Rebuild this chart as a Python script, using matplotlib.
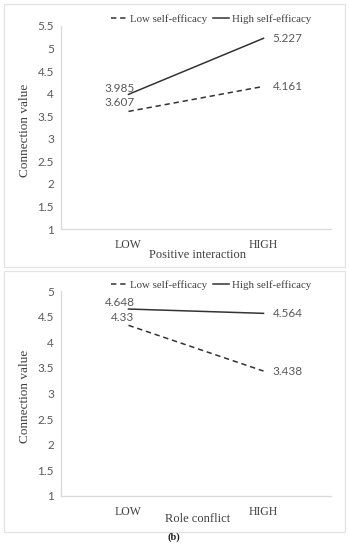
import matplotlib
matplotlib.use("Agg")
import matplotlib.pyplot as plt
from matplotlib.patches import Rectangle

categories = ["LOW", "HIGH"]
top_low = [3.607, 4.161]
top_high = [3.985, 5.227]
bot_low = [4.33, 3.438]
bot_high = [4.648, 4.564]
top_yticks = [1, 1.5, 2, 2.5, 3, 3.5, 4, 4.5, 5, 5.5]
bot_yticks = [1, 1.5, 2, 2.5, 3, 3.5, 4, 4.5, 5]
top_xlabel = "Positive interaction"
bot_xlabel = "Role conflict"

W, H = 349, 550
fig = plt.figure(figsize=(W / 100, H / 100), dpi=100)

SERIF = "Liberation Serif"
SANS = "Lato"
GRAY = "#595959"
AX = "#d9d9d9"
NUM = 8.5


def px_box(l, t, r, b):
    return [l / W, 1 - b / H, (r - l) / W, (b - t) / H]


# panel borders
for (l, t, r, b) in [(4, 4, 345, 267), (4, 271, 345, 532)]:
    fig.patches.append(Rectangle((l / W, 1 - b / H), (r - l) / W, (b - t) / H,
                                 transform=fig.transFigure, fill=False,
                                 edgecolor="#e3e3e3", linewidth=0.9))


def panel(rect, low, high, yticks, xlabel, ylim, leg_y, xl_y, dys):
    ax = fig.add_axes(px_box(*rect))
    x = range(len(categories))
    ax.plot(x, low, linestyle=(0, (3.5, 2.5)), color="#333333", linewidth=1.1,
            label="Low self-efficacy")
    ax.plot(x, high, linestyle="-", color="#333333", linewidth=1.1,
            label="High self-efficacy")
    ax.set_xlim(-0.5, 1.5)
    ax.set_ylim(*ylim)
    ax.set_yticks(yticks)
    ax.set_yticklabels([f"{v:g}" for v in yticks], fontfamily=SANS,
                       fontsize=NUM, color=GRAY)
    ax.set_xticks(list(x))
    ax.set_xticklabels(categories, fontfamily=SERIF, fontsize=8.5, color="#404040")
    ax.tick_params(length=0, pad=5)
    ax.tick_params(axis="x", pad=7)
    for s in ["top", "right"]:
        ax.spines[s].set_visible(False)
    for s in ["left", "bottom"]:
        ax.spines[s].set_color(AX)
        ax.spines[s].set_linewidth(0.9)
    fig.text(25 / W, 1 - ((rect[1] + rect[3]) / 2 + 3) / H, "Connection value",
             rotation=90, fontfamily=SERIF, fontsize=9.5, color="#404040",
             ha="center", va="center")
    fig.text((rect[0] + rect[2]) / 2 / W + 0.005, 1 - xl_y / H, xlabel,
             fontfamily=SERIF, fontsize=9, color="#404040",
             ha="center", va="center")
    # data labels
    ax.annotate(f"{low[0]:g}", (0, low[0]), xytext=(6, dys[0]), textcoords="offset pixels",
                ha="right", va="center", fontfamily=SANS, fontsize=NUM, color=GRAY)
    ax.annotate(f"{high[0]:g}", (0, high[0]), xytext=(6, dys[1]), textcoords="offset pixels",
                ha="right", va="center", fontfamily=SANS, fontsize=NUM, color=GRAY)
    ax.annotate(f"{low[1]:g}", (1, low[1]), xytext=(9, 0), textcoords="offset pixels",
                ha="left", va="center", fontfamily=SANS, fontsize=NUM, color=GRAY)
    ax.annotate(f"{high[1]:g}", (1, high[1]), xytext=(9, 0), textcoords="offset pixels",
                ha="left", va="center", fontfamily=SANS, fontsize=NUM, color=GRAY)
    leg = ax.legend(loc="center", bbox_to_anchor=(211 / W, 1 - leg_y / H),
                    bbox_transform=fig.transFigure, ncol=2, frameon=False,
                    handlelength=1.5, handletextpad=0.3, columnspacing=0.5,
                    prop={"family": SERIF, "size": 7.8})
    for t in leg.get_texts():
        t.set_color("#404040")
    return ax


panel((61, 26, 331, 229), top_low, top_high, top_yticks, top_xlabel,
      (1, 5.5), 19, 255, (9, 6))
panel((61, 291, 331, 496), bot_low, bot_high, bot_yticks, bot_xlabel,
      (1, 5), 285, 519, (8, 7))

fig.text(174 / W, 1 - 537 / H, "(b)", fontfamily=SERIF, fontsize=7.5,
         fontweight="bold", ha="center", va="center", color="#222222")

fig.savefig("out.png", dpi=100)
